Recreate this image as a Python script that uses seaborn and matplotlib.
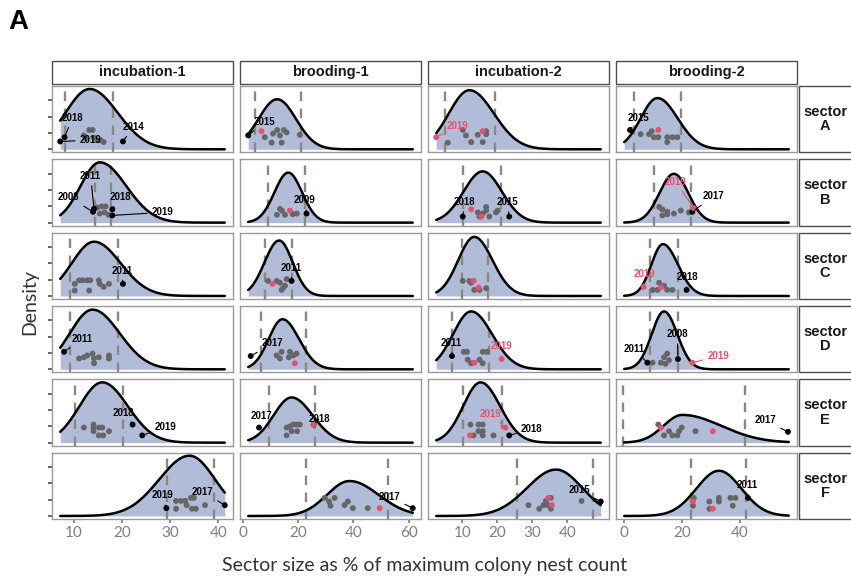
#! /usr/bin/env python
"""
Sector size distributions by breeding stage, one panel per sector
"""

import numpy as np
import pandas as pd
import seaborn as sns
import matplotlib.pyplot as plt
from matplotlib.patches import Rectangle

SECTORS = ["A", "B", "C", "D", "E", "F"]
STAGES = ["incubation-1", "brooding-1", "incubation-2", "brooding-2"]

# fitted curves, rows = sectors, cols = stages
MODE = [
    [13.3, 12.4, 12.0, 11.5],
    [15.4, 16.4, 15.8, 17.2],
    [14.2, 13.1, 13.4, 13.4],
    [13.9, 14.3, 12.5, 13.8],
    [15.9, 17.6, 15.2, 20.1],
    [34.0, 38.6, 36.8, 32.8],
]
SD_LEFT = [
    [5.0, 6.8, 5.9, 5.8],
    [4.0, 5.0, 5.5, 5.0],
    [4.6, 5.3, 4.6, 4.0],
    [4.7, 5.0, 5.2, 4.3],
    [4.7, 6.5, 5.0, 6.5],
    [6.3, 8.2, 8.3, 7.8],
]
SD_RIGHT = [
    [5.8, 6.8, 7.0, 7.0],
    [5.5, 5.0, 5.5, 5.0],
    [5.5, 4.9, 5.2, 5.2],
    [5.6, 6.0, 6.0, 4.6],
    [5.3, 7.6, 5.6, 13.5],
    [5.3, 10.5, 7.5, 7.8],
]
PEAK = [
    [1.00, 0.83, 0.98, 0.85],
    [1.00, 0.83, 0.85, 0.81],
    [0.90, 0.92, 0.98, 0.86],
    [0.99, 0.83, 0.96, 0.96],
    [1.00, 0.75, 1.00, 0.46],
    [1.00, 0.58, 0.77, 0.75],
]
DASH_LO = [
    [8.2, 4.3, 5.0, 3.4],
    [14.5, 9.1, 10.1, 10.3],
    [9.2, 7.9, 9.9, 8.9],
    [9.2, 6.5, 7.0, 8.9],
    [10.2, 9.5, 10.3, -0.5],
    [29.3, 23.0, 25.6, 23.0],
]
DASH_HI = [
    [18.1, 20.9, 19.4, 19.8],
    [17.8, 22.4, 21.1, 23.0],
    [19.2, 17.6, 17.2, 18.6],
    [19.2, 23.0, 17.7, 18.6],
    [20.2, 26.0, 21.2, 42.0],
    [39.1, 52.5, 47.5, 42.2],
]
CURVE_FROM = [7.2, 1.9, 2.5, 0.0]
CURVE_TO = [41.3, 61.5, 49.6, 57.0]
X_TICKS = [[10, 20, 30, 40], [0, 20, 40, 60], [10, 20, 30, 40], [0, 20, 40]]

# other years (sector, stage, x, jittered height)
GREY_PTS = [
    ("A", "incubation-1", 12.1, .23), ("A", "incubation-1", 13.2, .32), ("A", "incubation-1", 13.9, .32),
    ("A", "incubation-1", 12.5, .18), ("A", "incubation-1", 14.2, .19), ("A", "incubation-1", 14.9, .15),
    ("A", "incubation-1", 15.6, .15), ("A", "incubation-1", 16.2, .12),
    ("A", "brooding-1", 7.9, .20), ("A", "brooding-1", 10.4, .11), ("A", "brooding-1", 10.9, .26),
    ("A", "brooding-1", 12.4, .32), ("A", "brooding-1", 13.4, .23), ("A", "brooding-1", 14.0, .11),
    ("A", "brooding-1", 14.8, .32), ("A", "brooding-1", 15.8, .28), ("A", "brooding-1", 20.6, .24),
    ("A", "incubation-2", 5.8, .11), ("A", "incubation-2", 10.1, .32), ("A", "incubation-2", 11.0, .23),
    ("A", "incubation-2", 12.5, .12), ("A", "incubation-2", 14.4, .24), ("A", "incubation-2", 15.8, .12),
    ("A", "incubation-2", 16.8, .30), ("A", "incubation-2", 16.8, .25),
    ("A", "brooding-2", 5.7, .25), ("A", "brooding-2", 8.6, .25), ("A", "brooding-2", 9.5, .30),
    ("A", "brooding-2", 10.3, .20), ("A", "brooding-2", 11.8, .20), ("A", "brooding-2", 14.9, .20),
    ("A", "brooding-2", 14.9, .12), ("A", "brooding-2", 16.7, .20), ("A", "brooding-2", 18.4, .20),
    ("B", "incubation-1", 14.9, .25), ("B", "incubation-1", 15.8, .27), ("B", "incubation-1", 16.6, .27),
    ("B", "incubation-1", 15.4, .15), ("B", "incubation-1", 16.4, .17), ("B", "incubation-1", 17.2, .13),
    ("B", "brooding-1", 12.3, .13), ("B", "brooding-1", 14.1, .20), ("B", "brooding-1", 15.2, .13),
    ("B", "brooding-1", 18.0, .14), ("B", "brooding-1", 19.5, .15), ("B", "brooding-1", 13.4, .23),
    ("B", "incubation-2", 16.8, .26), ("B", "incubation-2", 16.8, .20), ("B", "incubation-2", 14.4, .17),
    ("B", "incubation-2", 20.1, .20), ("B", "incubation-2", 14.9, .10), ("B", "incubation-2", 15.8, .15),
    ("B", "incubation-2", 17.7, .10), ("B", "incubation-2", 19.6, .17),
    ("B", "brooding-2", 12.1, .26), ("B", "brooding-2", 13.2, .22), ("B", "brooding-2", 14.9, .18),
    ("B", "brooding-2", 19.6, .20), ("B", "brooding-2", 13.2, .12), ("B", "brooding-2", 14.9, .14),
    ("B", "brooding-2", 17.2, .15), ("B", "brooding-2", 22.4, .17),
    ("C", "incubation-1", 10.2, .20), ("C", "incubation-1", 11.1, .26), ("C", "incubation-1", 11.8, .26),
    ("C", "incubation-1", 12.7, .26), ("C", "incubation-1", 13.4, .26), ("C", "incubation-1", 15.2, .26),
    ("C", "incubation-1", 15.4, .20), ("C", "incubation-1", 16.2, .15), ("C", "incubation-1", 17.3, .20),
    ("C", "incubation-1", 10.2, .09), ("C", "incubation-1", 13.2, .09),
    ("C", "brooding-1", 9.1, .25), ("C", "brooding-1", 12.2, .25), ("C", "brooding-1", 13.4, .22),
    ("C", "brooding-1", 15.2, .17), ("C", "brooding-1", 14.0, .10), ("C", "brooding-1", 15.8, .28),
    ("C", "brooding-1", 14.5, .13),
    ("C", "incubation-2", 10.1, .25), ("C", "incubation-2", 12.5, .22), ("C", "incubation-2", 13.4, .10),
    ("C", "incubation-2", 16.8, .13), ("C", "incubation-2", 14.9, .10), ("C", "incubation-2", 12.0, .25),
    ("C", "brooding-2", 9.8, .10), ("C", "brooding-2", 11.5, .10), ("C", "brooding-2", 12.1, .22),
    ("C", "brooding-2", 13.8, .17), ("C", "brooding-2", 14.9, .10), ("C", "brooding-2", 16.7, .10),
    ("D", "incubation-1", 11.1, .18), ("D", "incubation-1", 12.1, .20), ("D", "incubation-1", 12.8, .23),
    ("D", "incubation-1", 13.9, .26), ("D", "incubation-1", 14.2, .18), ("D", "incubation-1", 14.2, .10),
    ("D", "incubation-1", 15.2, .20), ("D", "incubation-1", 17.3, .23), ("D", "incubation-1", 17.3, .18),
    ("D", "brooding-1", 12.2, .23), ("D", "brooding-1", 14.0, .29), ("D", "brooding-1", 13.4, .18),
    ("D", "brooding-1", 17.0, .29), ("D", "brooding-1", 18.2, .23), ("D", "brooding-1", 19.4, .26),
    ("D", "brooding-1", 16.6, .20),
    ("D", "incubation-2", 10.4, .29), ("D", "incubation-2", 11.3, .29), ("D", "incubation-2", 11.5, .16),
    ("D", "incubation-2", 12.5, .10), ("D", "incubation-2", 14.9, .16), ("D", "incubation-2", 15.8, .10),
    ("D", "incubation-2", 15.8, .29), ("D", "incubation-2", 17.0, .29),
    ("D", "brooding-2", 9.8, .11), ("D", "brooding-2", 12.7, .11), ("D", "brooding-2", 13.8, .20),
    ("D", "brooding-2", 14.9, .26), ("D", "brooding-2", 15.5, .15), ("D", "brooding-2", 14.3, .09),
    ("E", "incubation-1", 12.1, .25), ("E", "incubation-1", 14.1, .30), ("E", "incubation-1", 14.1, .25),
    ("E", "incubation-1", 14.1, .19), ("E", "incubation-1", 15.2, .25), ("E", "incubation-1", 15.9, .25),
    ("E", "incubation-1", 15.2, .12), ("E", "incubation-1", 16.1, .12), ("E", "incubation-1", 17.3, .19),
    ("E", "brooding-1", 15.8, .25), ("E", "brooding-1", 17.0, .27), ("E", "brooding-1", 18.2, .30),
    ("E", "brooding-1", 19.4, .30), ("E", "brooding-1", 20.6, .30), ("E", "brooding-1", 15.8, .12),
    ("E", "brooding-1", 17.6, .19), ("E", "brooding-1", 19.6, .19),
    ("E", "incubation-2", 12.3, .30), ("E", "incubation-2", 14.6, .30), ("E", "incubation-2", 15.8, .30),
    ("E", "incubation-2", 13.2, .12), ("E", "incubation-2", 15.8, .19), ("E", "incubation-2", 15.8, .12),
    ("E", "incubation-2", 18.9, .12), ("E", "incubation-2", 14.6, .19),
    ("E", "brooding-2", 11.8, .30), ("E", "brooding-2", 13.8, .12), ("E", "brooding-2", 15.5, .19),
    ("E", "brooding-2", 16.7, .12), ("E", "brooding-2", 18.4, .12), ("E", "brooding-2", 19.0, .19),
    ("E", "brooding-2", 19.9, .25), ("E", "brooding-2", 24.7, .19),
    ("F", "incubation-1", 31.2, .25), ("F", "incubation-1", 32.2, .25), ("F", "incubation-1", 33.1, .25),
    ("F", "incubation-1", 31.2, .12), ("F", "incubation-1", 33.4, .18), ("F", "incubation-1", 34.3, .30),
    ("F", "incubation-1", 34.9, .30), ("F", "incubation-1", 34.5, .12), ("F", "incubation-1", 35.3, .12),
    ("F", "incubation-1", 37.2, .18),
    ("F", "brooding-1", 29.6, .30), ("F", "brooding-1", 31.2, .24), ("F", "brooding-1", 31.7, .17),
    ("F", "brooding-1", 33.2, .30), ("F", "brooding-1", 36.8, .18), ("F", "brooding-1", 38.0, .24),
    ("F", "brooding-1", 39.8, .13), ("F", "brooding-1", 45.2, .13),
    ("F", "incubation-2", 28.9, .18), ("F", "incubation-2", 32.0, .12), ("F", "incubation-2", 33.2, .18),
    ("F", "incubation-2", 33.9, .25), ("F", "incubation-2", 35.3, .30), ("F", "incubation-2", 35.3, .12),
    ("F", "incubation-2", 44.1, .25), ("F", "incubation-2", 34.4, .18),
    ("F", "brooding-2", 24.1, .30), ("F", "brooding-2", 23.8, .17), ("F", "brooding-2", 29.5, .24),
    ("F", "brooding-2", 29.5, .12), ("F", "brooding-2", 32.8, .30), ("F", "brooding-2", 32.8, .24),
    ("F", "brooding-2", 36.8, .30), ("F", "brooding-2", 37.6, .17), ("F", "brooding-2", 38.5, .30),
]

# highlighted points without a label
RED_PTS = [
    ("A", "brooding-1", 6.7, .30), ("A", "incubation-2", 15.8, .30), ("A", "brooding-2", 11.8, .32),
    ("B", "brooding-1", 17.0, .20), ("B", "incubation-2", 12.5, .22), ("B", "incubation-2", 15.4, .10),
    ("C", "brooding-1", 10.7, .20), ("C", "incubation-2", 13.2, .25), ("C", "incubation-2", 14.6, .14),
    ("C", "brooding-2", 12.7, .14),
    ("D", "brooding-1", 18.8, .10), ("D", "incubation-2", 13.4, .11),
    ("E", "brooding-1", 25.6, .30), ("E", "incubation-2", 12.2, .12),
    ("E", "brooding-2", 12.7, .25), ("E", "brooding-2", 30.7, .19),
    ("F", "brooding-1", 49.5, .13), ("F", "incubation-2", 34.6, .30), ("F", "incubation-2", 35.6, .18),
    ("F", "brooding-2", 23.8, .24), ("F", "brooding-2", 30.7, .12),
]

# labelled years: sector, stage, year, x, y, label x, label y, highlighted
LABELLED = [
    ("A", "incubation-1", "2018", 8.1, .20, 9.7, .52, False),
    ("A", "incubation-1", "2019", 7.2, .13, 13.5, .15, False),
    ("A", "incubation-1", "2014", 20.2, .13, 22.3, .37, False),
    ("A", "brooding-1", "2015", 1.9, .23, 7.9, .46, False),
    ("A", "incubation-2", "2019", 2.5, .20, 8.7, .39, True),
    ("A", "brooding-2", "2015", 2.0, .32, 4.9, .52, False),
    ("B", "incubation-1", "2011", 14.2, .23, 13.5, .77, False),
    ("B", "incubation-1", "2008", 14.0, .18, 9.0, .42, False),
    ("B", "incubation-1", "2018", 18.0, .22, 19.7, .42, False),
    ("B", "incubation-1", "2019", 18.0, .12, 28.4, .17, False),
    ("B", "brooding-1", "2009", 23.0, .15, 22.4, .37, False),
    ("B", "incubation-2", "2018", 10.1, .10, 10.6, .34, False),
    ("B", "incubation-2", "2015", 23.4, .10, 22.9, .34, False),
    ("B", "brooding-2", "2019", 24.1, .24, 17.8, .68, True),
    ("B", "brooding-2", "2017", 23.6, .18, 31.0, .44, False),
    ("C", "incubation-1", "2011", 20.2, .20, 20.0, .42, False),
    ("C", "brooding-1", "2011", 17.6, .25, 17.6, .47, False),
    ("C", "brooding-2", "2019", 6.7, .15, 6.9, .36, True),
    ("C", "brooding-2", "2018", 21.6, .10, 21.8, .31, False),
    ("D", "incubation-1", "2011", 8.0, .29, 11.8, .51, False),
    ("D", "brooding-1", "2017", 2.8, .22, 10.7, .43, False),
    ("D", "incubation-2", "2011", 7.0, .22, 6.8, .44, False),
    ("D", "incubation-2", "2019", 21.2, .17, 21.2, .38, True),
    ("D", "brooding-2", "2011", 8.0, .11, 3.4, .33, False),
    ("D", "brooding-2", "2008", 18.6, .17, 18.4, .58, False),
    ("D", "brooding-2", "2019", 23.6, .11, 32.5, .22, True),
    ("E", "incubation-1", "2018", 22.2, .30, 20.4, .50, False),
    ("E", "incubation-1", "2019", 24.2, .12, 29.0, .26, False),
    ("E", "brooding-1", "2017", 5.8, .25, 6.7, .44, False),
    ("E", "brooding-1", "2018", 25.6, .30, 27.8, .40, False),
    ("E", "incubation-2", "2019", 22.3, .25, 18.0, .48, True),
    ("E", "incubation-2", "2018", 23.4, .12, 29.8, .23, False),
    ("E", "brooding-2", "2017", 56.7, .18, 48.9, .37, False),
    ("F", "incubation-1", "2019", 29.2, .13, 28.3, .34, False),
    ("F", "incubation-1", "2017", 41.3, .18, 36.7, .40, False),
    ("F", "brooding-1", "2017", 61.5, .13, 53.1, .32, False),
    ("F", "incubation-2", "2015", 49.6, .24, 43.4, .43, False),
    ("F", "brooding-2", "2011", 42.9, .30, 42.5, .52, False),
]

FILL = "#b0bcd8"
DASH = "#8b887c"
GREY = "#666666"
RED = "#e8506f"


def build_curves() -> pd.DataFrame:
    """Split-normal curve per panel from the read-off parameters"""
    frames = []
    for i, sector in enumerate(SECTORS):
        for j, stage in enumerate(STAGES):
            x = np.linspace(CURVE_FROM[j], CURVE_TO[j], 400)
            sd = np.where(x < MODE[i][j], SD_LEFT[i][j], SD_RIGHT[i][j])
            y = PEAK[i][j] * np.exp(-0.5 * ((x - MODE[i][j]) / sd) ** 2)
            frames.append(pd.DataFrame({"sector": sector, "stage": stage, "x": x, "y": y}))
    return pd.concat(frames, ignore_index=True)


def run() -> None:
    curves = build_curves()
    grey = pd.DataFrame(GREY_PTS, columns=["sector", "stage", "x", "y"])
    red = pd.DataFrame(RED_PTS, columns=["sector", "stage", "x", "y"])
    lab = pd.DataFrame(
        LABELLED, columns=["sector", "stage", "year", "x", "y", "lx", "ly", "hl"]
    )

    sns.set_theme(style="white")
    plt.rcParams["font.family"] = ["Liberation Sans", "DejaVu Sans"]

    g = sns.FacetGrid(
        curves, row="sector", col="stage", row_order=SECTORS, col_order=STAGES,
        sharex="col", sharey=True, height=1, aspect=2.7, despine=False,
    )
    fig = g.figure
    fig.set_size_inches(8.51, 5.77)
    fig.subplots_adjust(left=52 / 851, right=797 / 851, top=1 - 86 / 577,
                        bottom=1 - 519 / 577, wspace=7 / 181, hspace=7 / 66)
    g.set_titles("")
    g.set_axis_labels("", "")

    for i, sector in enumerate(SECTORS):
        for j, stage in enumerate(STAGES):
            ax = g.axes[i, j]
            c = curves[(curves.sector == sector) & (curves.stage == stage)]
            ax.fill_between(c.x, 0, c.y, color=FILL, lw=0, zorder=1)
            for xv in (DASH_LO[i][j], DASH_HI[i][j]):
                ax.axvline(xv, color=DASH, lw=1.7, ls=(0, (4, 3.2)), zorder=2)
            sns.lineplot(data=c, x="x", y="y", ax=ax, color="black", lw=1.8,
                         zorder=3, legend=False)

            gp = grey[(grey.sector == sector) & (grey.stage == stage)]
            sns.scatterplot(data=gp, x="x", y="y", ax=ax, color=GREY, s=18,
                            edgecolor="none", zorder=4, legend=False)
            lp = lab[(lab.sector == sector) & (lab.stage == stage)]
            for _, r in lp.iterrows():
                col = RED if r.hl else "black"
                ax.annotate(
                    r.year, xy=(r.x, r.y), xytext=(r.lx, r.ly), ha="center",
                    va="center", fontsize=7, fontweight="bold", color=col, zorder=6,
                    arrowprops=dict(arrowstyle="-", color=col, lw=0.8,
                                    shrinkA=1, shrinkB=2),
                )
            sns.scatterplot(data=lp[~lp.hl], x="x", y="y", ax=ax, color="black",
                            s=18, edgecolor="none", zorder=5, legend=False)
            rp = pd.concat([red[(red.sector == sector) & (red.stage == stage)],
                            lp[lp.hl][["sector", "stage", "x", "y"]]])
            sns.scatterplot(data=rp, x="x", y="y", ax=ax, color=RED, s=18,
                            edgecolor="none", zorder=5, legend=False)

            pad = 0.05 * (CURVE_TO[j] - CURVE_FROM[j])
            ax.set_xlim(CURVE_FROM[j] - pad, CURVE_TO[j] + pad)
            ax.set_ylim(-0.05, 1.05)
            ax.set_xlabel("")
            ax.set_ylabel("")
            for sp in ax.spines.values():
                sp.set_color("#9a9a9a")
                sp.set_linewidth(1.0)

            ax.set_xticks(X_TICKS[j])
            if i == len(SECTORS) - 1:
                ax.tick_params(axis="x", bottom=True, length=3, color="#7f7f7f",
                               labelsize=11, labelcolor="#7f7f7f", pad=2)
                for t in ax.get_xticklabels():
                    t.set_family("Lato")
            else:
                ax.tick_params(axis="x", bottom=False, labelbottom=False)
            if j == 0:
                ax.set_yticks([0, 0.27, 0.54, 0.81])
                ax.tick_params(axis="y", left=True, length=3, color="#555555",
                               labelleft=False)
            else:
                ax.tick_params(axis="y", left=False, labelleft=False)

            if i == 0:
                ax.add_patch(Rectangle((0, 1.03), 1, 0.35, transform=ax.transAxes,
                                       clip_on=False, facecolor="white",
                                       edgecolor="#4d4d4d", lw=1.0))
                ax.text(0.5, 1.205, stage, transform=ax.transAxes, ha="center",
                        va="center", fontsize=10.5, fontweight="bold",
                        color="#1a1a1a")
            if j == len(STAGES) - 1:
                ax.add_patch(Rectangle((1.011, 0), 0.5, 1, transform=ax.transAxes,
                                       clip_on=False, facecolor="white",
                                       edgecolor="#4d4d4d", lw=1.0))
                ax.text(1.155, 0.5, f"sector\n{sector}", transform=ax.transAxes,
                        ha="center", va="center", fontsize=10.5, fontweight="bold",
                        color="#1a1a1a", linespacing=1.05)

    fig.text(424.5 / 851, 1 - 565 / 577, "Sector size as % of maximum colony nest count",
             ha="center", va="center", fontsize=14, color="#333333", family="Lato")
    fig.text(30 / 851, 1 - 302 / 577, "Density", rotation=90, ha="center",
             va="center", fontsize=14, color="#333333", family="Lato")
    fig.text(18 / 851, 1 - 22 / 577, "A", ha="center", va="center", fontsize=20,
             fontweight="bold", color="black")

    fig.savefig("out.png", dpi=100, facecolor="white")


if __name__ == "__main__":
    run()
